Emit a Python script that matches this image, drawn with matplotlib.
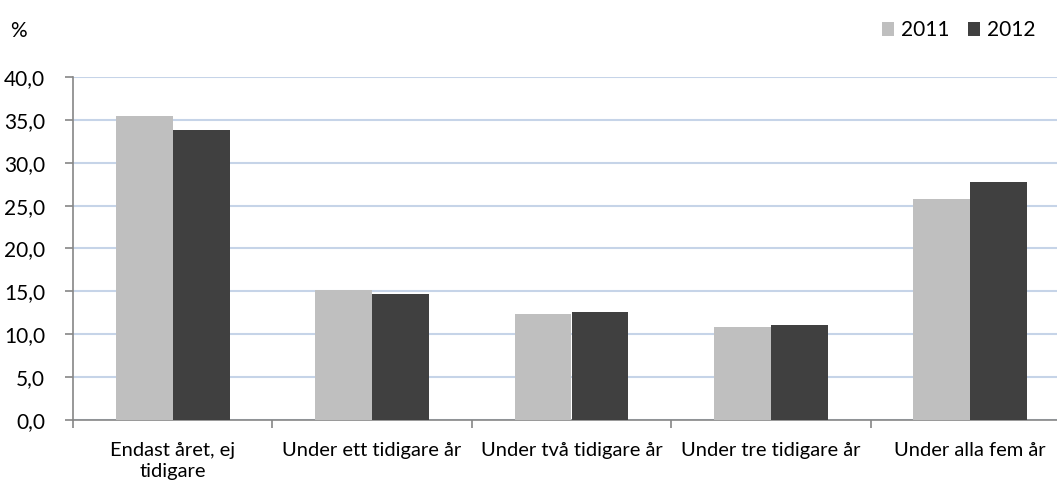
import matplotlib
matplotlib.use("Agg")
import matplotlib.pyplot as plt
import numpy as np
from matplotlib.patches import Patch

plt.rcParams['font.family'] = ['Lato', 'DejaVu Sans']

categories = ["Endast året, ej\ntidigare", "Under ett tidigare år", "Under två tidigare år",
              "Under tre tidigare år", "Under alla fem år"]
years = ["2011", "2012"]
values_2011 = [35.5, 15.2, 12.4, 10.9, 25.8]
values_2012 = [33.8, 14.7, 12.6, 11.1, 27.7]
yticks = [0, 5, 10, 15, 20, 25, 30, 35, 40]

colors = {"2011": "#BFBFBF", "2012": "#404040"}

W, H = 1057, 483
fig = plt.figure(figsize=(W / 100, H / 100), dpi=100)
ax = fig.add_axes([73 / W, (H - 420) / H, (1070 - 73) / W, (420 - 77) / H])

x = np.arange(len(categories))
bw = 0.285
ax.bar(x - bw / 2, values_2011, width=bw, color=colors["2011"], zorder=3)
ax.bar(x + bw / 2, values_2012, width=bw, color=colors["2012"], zorder=3)

ax.set_xlim(-0.5, len(categories) - 0.5)
ax.set_ylim(0, 40)
ax.set_yticks(yticks)
ax.set_yticklabels([f"{v:.1f}".replace(".", ",") for v in yticks], fontsize=15, color="#000000")
ax.yaxis.grid(True, color="#C6D4E8", linewidth=1.5, zorder=0)
ax.set_axisbelow(True)

# category boundaries carry the tick marks, labels sit at centres
ax.set_xticks(np.arange(-0.5, len(categories) + 0.5, 1.0))
ax.set_xticklabels([])
ax.set_xticks(x, minor=True)
ax.set_xticklabels(categories, minor=True, fontsize=14.5, linespacing=1.25)
ax.tick_params(axis="x", which="minor", length=0, pad=16)
ax.tick_params(axis="x", which="major", length=6, width=1.2, color="#868686")
ax.tick_params(axis="y", length=6, width=1.2, color="#868686", pad=14)

for s in ["top", "right"]:
    ax.spines[s].set_visible(False)
for s in ["left", "bottom"]:
    ax.spines[s].set_color("#868686")
    ax.spines[s].set_linewidth(1.2)

fig.text(10 / W, 1 - 31 / H, "%", fontsize=15, va="center", ha="left")

handles = [Patch(facecolor=colors[y], label=y) for y in years]
fig.legend(handles=handles, loc="center right", bbox_to_anchor=(1046 / W, 1 - 30 / H),
           ncol=2, frameon=False, fontsize=15, handlelength=0.55, handleheight=0.65,
           handletextpad=0.35, columnspacing=0.9, borderpad=0)

fig.savefig("out.png", dpi=100)
